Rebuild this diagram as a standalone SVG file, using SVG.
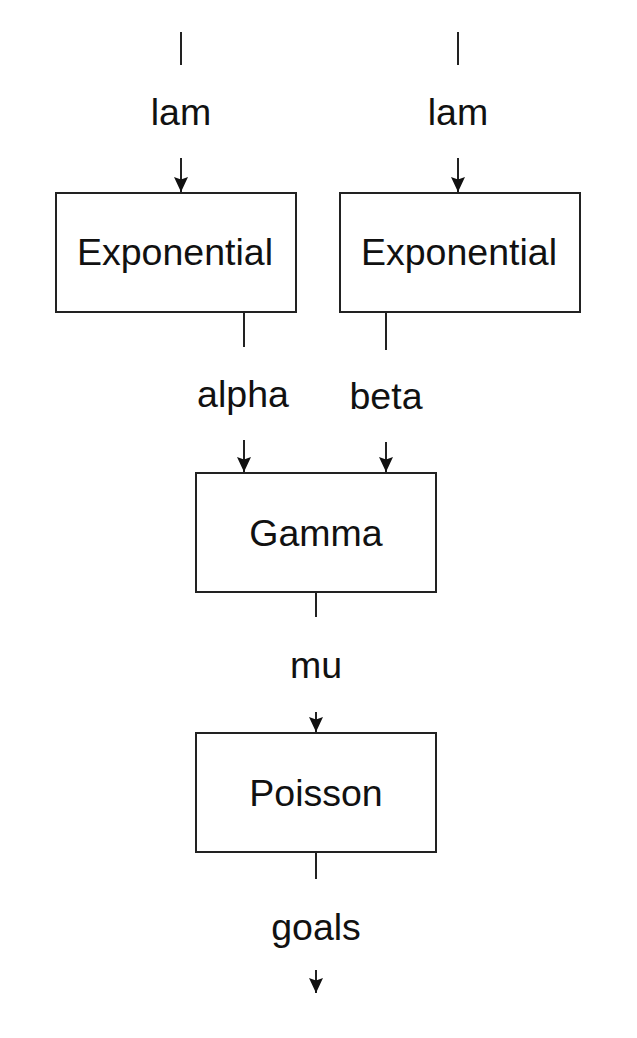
<svg xmlns="http://www.w3.org/2000/svg" width="637" height="1038" viewBox="0 0 637 1038">
<style>
.box{fill:#fff;stroke:#222;stroke-width:2}
.t{font-family:"Liberation Sans",Arial,sans-serif;font-size:37.5px;fill:#111;text-anchor:middle}
.c{stroke:#222;stroke-width:2;fill:none}
.a{stroke:#222;stroke-width:2;fill:none;marker-end:url(#ah)}
</style>
<defs>
<marker id="ah" markerUnits="userSpaceOnUse" viewBox="-1 -8 17 16" refX="15" refY="0" markerWidth="17" markerHeight="16" orient="auto">
<path d="M0,-7 L15,0 L0,7 L2.5,0 Z" fill="#111"/>
</marker>
</defs>
<rect width="637" height="1038" fill="#fff"/>
<g id="connectors">
<line class="c" x1="181" y1="32" x2="181" y2="65"/>
<line class="a" x1="181" y1="158" x2="181" y2="192"/>
<line class="c" x1="458" y1="32" x2="458" y2="65"/>
<line class="a" x1="458" y1="158" x2="458" y2="192"/>
<line class="c" x1="244" y1="312" x2="244" y2="347"/>
<line class="a" x1="244" y1="440" x2="244" y2="472"/>
<line class="c" x1="386" y1="312" x2="386" y2="350"/>
<line class="a" x1="386" y1="442" x2="386" y2="472"/>
<line class="c" x1="316" y1="592" x2="316" y2="617"/>
<line class="a" x1="316" y1="712" x2="316" y2="732"/>
<line class="c" x1="316" y1="852" x2="316" y2="879"/>
<line class="a" x1="316" y1="970" x2="316" y2="993"/>
<text class="t" x="181" y="125">lam</text>
<text class="t" x="458" y="125">lam</text>
<text class="t" x="243" y="407">alpha</text>
<text class="t" x="386" y="409">beta</text>
<text class="t" x="316" y="678">mu</text>
<text class="t" x="316" y="940">goals</text>
</g>
<g id="exp1">
<rect class="box" x="56" y="193" width="240" height="119"/>
<text class="t" x="175" y="265">Exponential</text>
</g>
<g id="exp2">
<rect class="box" x="340" y="193" width="240" height="119"/>
<text class="t" x="459" y="265">Exponential</text>
</g>
<g id="gamma">
<rect class="box" x="196" y="473" width="240" height="119"/>
<text class="t" x="316" y="546">Gamma</text>
</g>
<g id="poisson">
<rect class="box" x="196" y="733" width="240" height="119"/>
<text class="t" x="316" y="806">Poisson</text>
</g>
</svg>
